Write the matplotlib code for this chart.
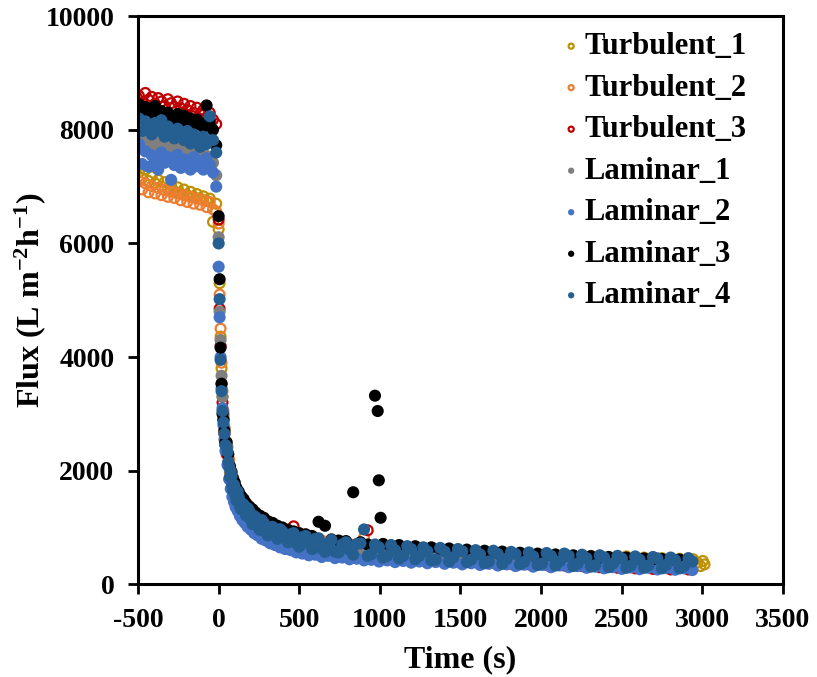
import matplotlib
matplotlib.use("Agg")
import matplotlib.pyplot as plt

plt.rcParams['font.family'] = ['Liberation Serif', 'DejaVu Serif']
plt.rcParams['font.weight'] = 'bold'
plt.rcParams['axes.unicode_minus'] = False
plt.rcParams['mathtext.fontset'] = 'custom'
plt.rcParams['mathtext.rm'] = 'Liberation Serif:bold'
plt.rcParams['mathtext.bf'] = 'Liberation Serif:bold'
plt.rcParams['mathtext.it'] = 'Liberation Serif:bold'

# ---- data ---------------------------------------------------------------
# time stamps (s): plateau before the step, the step itself, two decay grids
T_PRE = [-495, -475, -455, -435, -415, -395, -375, -355, -335, -315, -295, -275, -255,
         -235, -215, -195, -175, -155, -135, -115, -95, -75, -55, -35, -15]
T_DROP = [0, 6, 12, 18, 24, 30, 36, 42]
T_DECAY_A = [50, 60, 70, 80, 90, 100, 110, 125, 140, 155, 170, 190, 210, 230,
             255, 280, 305, 335, 365, 395, 430, 465, 500, 540, 580, 620, 660, 700,
             745, 790, 835, 880, 925, 970, 1020, 1070, 1120, 1170, 1220, 1270, 1320, 1375,
             1430, 1485, 1540, 1595, 1650, 1705, 1760, 1815, 1870, 1925, 1980, 2035,
             2090, 2145, 2200, 2255, 2310, 2365, 2420, 2475, 2530, 2585, 2640, 2695,
             2750, 2805, 2860, 2915]
T_DECAY_B = [55, 65, 75, 85, 95, 105, 118, 132, 147, 162, 180, 200, 220, 242,
             267, 292, 320, 350, 380, 412, 447, 482, 520, 560, 600, 640, 680, 722,
             767, 812, 857, 902, 947, 995, 1045, 1095, 1145, 1195, 1245, 1295, 1347, 1402,
             1457, 1512, 1567, 1622, 1677, 1732, 1787, 1842, 1897, 1952, 2007, 2062,
             2117, 2172, 2227, 2282, 2337, 2392, 2447, 2502, 2557, 2612, 2667, 2722,
             2777, 2832, 2887, 2940]

# Turbulent_1 (decay on grid A)
T1_PRE = [7250, 7150, 7300, 7100, 7180, 7060, 7120, 7000, 7080, 6960, 7030, 6920, 6990,
          6880, 6950, 6850, 6910, 6820, 6870, 6790, 6830, 6750, 6790, 6380, 6700]
T1_DROP = [6250, 5300, 4360, 3800, 3300, 2950, 2700, 2480]
T1_DECAY = [2330, 2090, 1970, 1800, 1740, 1600, 1580, 1450, 1420, 1320, 1300, 1200, 1180, 1090,
            1080, 990, 990, 910, 900, 840, 850, 780, 790, 720, 740, 680, 700, 640,
            670, 610, 640, 590, 620, 570, 600, 550, 580, 520, 560, 500, 540, 490,
            530, 480, 520, 470, 510, 460, 500, 450, 490, 440, 480, 450, 500, 460,
            490, 450, 500, 440, 480, 430, 490, 420, 470, 430, 460, 410, 450, 400]
T1_TAIL_T = [2945, 2970, 2990, 3005, 3015]
T1_TAIL = [440, 380, 320, 410, 350]

# Turbulent_2 (grid B)
T2_PRE = [7100, 6950, 7060, 6900, 7010, 6880, 6980, 6850, 6940, 6820, 6910, 6800, 6880,
          6760, 6850, 6730, 6820, 6700, 6790, 6680, 6760, 6640, 6730, 6600, 6560]
T2_DROP = [6350, 5100, 4500, 3900, 3400, 3050, 2750, 2500]
T2_DECAY = [2420, 2200, 2000, 1900, 1780, 1700, 1610, 1540, 1450, 1410, 1330, 1290, 1210, 1180,
            1110, 1080, 1020, 1000, 940, 930, 880, 870, 820, 810, 770, 770, 730, 730,
            700, 710, 680, 825, 650, 660, 640, 630, 620, 590, 610, 570, 590, 560,
            570, 550, 560, 520, 540, 510, 525, 495, 510, 480, 500, 470, 485, 460,
            470, 450, 460, 440, 450, 425, 440, 415, 430, 405, 420, 400, 410, 390]

# Turbulent_3 (grid A)
T3_PRE = [8600, 8480, 8650, 8530, 8580, 8460, 8560, 8500, 8420, 8540, 8470, 8400, 8500,
          8380, 8460, 8350, 8420, 8300, 8390, 8280, 8350, 8220, 8300, 8180, 8100]
T3_DROP = [6420, 4850, 4200, 3530, 3200, 2900, 2650, 2450]
T3_DECAY = [2290, 2100, 1880, 1790, 1660, 1600, 1490, 1440, 1330, 1310, 1220, 1190, 1100, 1080,
            1000, 980, 900, 890, 820, 800, 760, 1020, 580, 680, 660, 600, 620, 570,
            590, 540, 560, 520, 950, 500, 520, 480, 500, 460, 480, 440, 460, 420,
            440, 400, 430, 390, 420, 380, 400, 360, 390, 350, 380, 340, 360, 330,
            350, 320, 340, 300, 330, 290, 320, 280, 310, 270, 300, 260, 290, 260]

# Laminar_1 (grid A)
L1_PRE = [7900, 7780, 7850, 7720, 7760, 7830, 7690, 7770, 7650, 7740, 7600, 7710, 7650,
          7580, 7680, 7620, 7550, 7630, 7580, 7500, 7590, 7540, 7480, 7420, 7200]
L1_DROP = [6110, 4800, 4300, 3670, 3300, 3000, 2750, 2500]
L1_DECAY = [2400, 2140, 1990, 1840, 1770, 1650, 1600, 1490, 1440, 1350, 1320, 1230, 1200, 1120,
            1090, 1020, 1000, 940, 920, 850, 860, 790, 800, 730, 750, 690, 700, 650,
            670, 620, 640, 600, 620, 580, 600, 560, 580, 530, 560, 510, 540, 500,
            520, 490, 510, 470, 500, 460, 490, 450, 480, 440, 470, 430, 460, 420,
            440, 410, 430, 400, 420, 390, 410, 380, 400, 375, 390, 370, 385, 360]

# Laminar_2 (grid B)
L2_PRE = [7750, 7400, 7620, 7350, 7550, 7480, 7300, 7600, 7420, 7520, 7120, 7380, 7560,
          7330, 7480, 7400, 7300, 7520, 7360, 7450, 7300, 7500, 7380, 7250, 7000]
L2_DROP = [5590, 4700, 4000, 3450, 3100, 2800, 2550, 2350]
L2_DECAY = [2100, 1850, 1680, 1540, 1450, 1360, 1290, 1200, 1130, 1080, 1010, 960, 900, 860,
            800, 770, 720, 690, 650, 620, 600, 560, 540, 510, 520, 480, 500, 460,
            470, 440, 450, 420, 430, 400, 420, 390, 410, 380, 400, 370, 390, 360,
            380, 350, 370, 340, 360, 330, 350, 320, 345, 310, 340, 300, 330, 300,
            320, 290, 310, 280, 300, 270, 295, 265, 290, 260, 285, 255, 280, 250]

# Laminar_3 (grid A)
L3_PRE = [8450, 8250, 8400, 8180, 8350, 8420, 8200, 8330, 8150, 8300, 8220, 8120, 8280,
          8180, 8250, 8100, 8200, 8060, 8180, 8120, 8050, 8430, 8150, 8000, 7730]
L3_DROP = [6480, 5370, 4165, 3530, 3000, 2900, 2700, 2500]
L3_DECAY = [2500, 2290, 2080, 1980, 1860, 1790, 1700, 1630, 1550, 1500, 1430, 1370, 1320, 1260,
            1210, 1170, 1110, 1080, 1030, 1000, 960, 930, 900, 880, 850, 1100, 1030, 790,
            770, 760, 1620, 740, 700, 3320, 710, 680, 690, 660, 670, 640, 650, 620,
            630, 600, 610, 580, 590, 560, 575, 545, 555, 530, 540, 515, 525, 500,
            510, 485, 495, 470, 480, 460, 470, 450, 455, 440, 445, 430, 435, 420]
L3_EXTRA_T = [987, 994, 1005]
L3_EXTRA = [3050, 1830, 1170]

# Laminar_4 (both grids)
L4_PRE = [8200, 7980, 8150, 8050, 7920, 8120, 7990, 8170, 7880, 8060, 7930, 7850, 8020,
          7900, 7820, 7980, 7760, 7920, 7800, 7700, 7880, 7750, 8240, 7820, 7600]
L4_DROP = [6000, 5020, 3950, 3400, 3050, 2850, 2650, 2450]
L4_DECAY_A = [2420, 2160, 1880, 1900, 1650, 1700, 1480, 1530, 1320, 1400, 1210, 1290, 1060, 1180,
              960, 1080, 860, 1010, 800, 930, 740, 900, 660, 850, 620, 810, 570, 780,
              560, 740, 520, 720, 500, 700, 470, 690, 450, 670, 440, 650, 420, 640,
              400, 620, 390, 600, 370, 590, 360, 570, 350, 560, 340, 550, 330, 540,
              320, 520, 310, 510, 300, 500, 290, 490, 290, 480, 280, 470, 280, 460]
L4_DECAY_B = [2330, 2070, 1990, 1740, 1750, 1570, 1630, 1380, 1420, 1290, 1340, 1140, 1200, 1090,
              1130, 920, 1000, 870, 970, 820, 880, 720, 830, 715, 800, 630, 720, 575,
              700, 605, 710, 965, 530, 650, 500, 600, 500, 620, 500, 580, 432, 575,
              478, 580, 433, 526, 400, 534, 448, 532, 396, 490, 365, 500, 405, 500,
              365, 460, 335, 470, 366, 452, 328, 434, 330, 456, 342, 428, 314, 400]

X_TICKS = [-500, 0, 500, 1000, 1500, 2000, 2500, 3000, 3500]
Y_TICKS = [0, 2000, 4000, 6000, 8000, 10000]

series = [
    ('Turbulent_1', T_PRE + T_DROP + T_DECAY_A + T1_TAIL_T, T1_PRE + T1_DROP + T1_DECAY + T1_TAIL, '#BF9000', True),
    ('Turbulent_2', T_PRE + T_DROP + T_DECAY_B, T2_PRE + T2_DROP + T2_DECAY, '#ED7D31', True),
    ('Turbulent_3', T_PRE + T_DROP + T_DECAY_A, T3_PRE + T3_DROP + T3_DECAY, '#C00000', True),
    ('Laminar_1', T_PRE + T_DROP + T_DECAY_A, L1_PRE + L1_DROP + L1_DECAY, '#7F7F7F', False),
    ('Laminar_2', T_PRE + T_DROP + T_DECAY_B, L2_PRE + L2_DROP + L2_DECAY, '#4472C4', False),
    ('Laminar_3', T_PRE + T_DROP + T_DECAY_A + L3_EXTRA_T, L3_PRE + L3_DROP + L3_DECAY + L3_EXTRA, '#000000', False),
    ('Laminar_4', T_PRE + T_DROP + T_DECAY_A + T_DECAY_B, L4_PRE + L4_DROP + L4_DECAY_A + L4_DECAY_B, '#255E91', False),
]

fig = plt.figure(figsize=(8.17, 6.77), dpi=100)
ax = fig.add_axes([0.169, 0.137, 0.789, 0.839])

for name, t, f, col, hollow in series:
    if hollow:
        ax.scatter(t, f, s=50, facecolors='none', edgecolors=col, linewidths=1.6, label=name)
    else:
        ax.scatter(t, f, s=76, color=col, edgecolors='none', label=name)

ax.set_xlim(-500, 3500)
ax.set_ylim(0, 10000)
ax.set_xticks(X_TICKS)
ax.set_yticks(Y_TICKS)
ax.tick_params(direction='out', length=7, width=2, labelsize=20, pad=10)
for lab in ax.get_xticklabels() + ax.get_yticklabels():
    lab.set_fontweight('bold')
for sp in ax.spines.values():
    sp.set_linewidth(2.2)

ax.set_xlabel('Time (s)', fontsize=23, fontweight='bold', labelpad=9)
ax.set_ylabel(r'Flux (L m$^{\mathbf{-2}}$h$^{\mathbf{-1}}$)', fontsize=23, fontweight='bold', labelpad=-2)

leg = ax.legend(loc='upper left', bbox_to_anchor=(0.660, 0.972), frameon=False,
                prop={'size': 22, 'weight': 'bold'}, markerscale=0.52,
                handletextpad=0.2, handlelength=0.5, labelspacing=0.41,
                borderaxespad=0, borderpad=0)

fig.savefig('out.png', dpi=100)
